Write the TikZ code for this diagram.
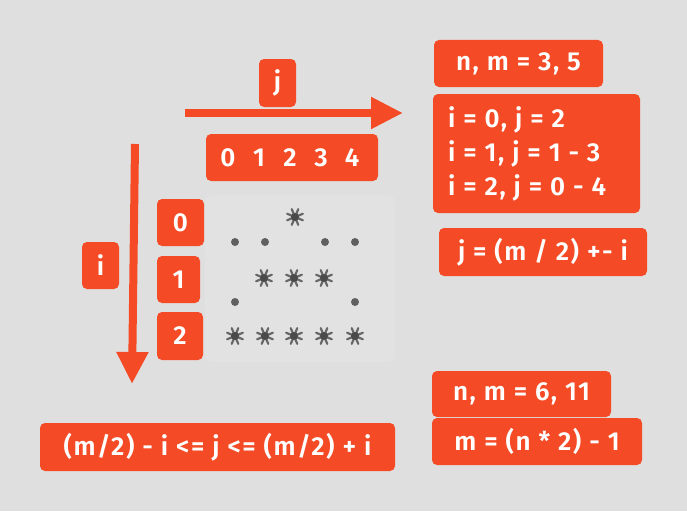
\documentclass[tikz,border=0pt]{standalone}
\usepackage{fontspec}
\setmainfont{Fira Sans}[UprightFont={* SemiBold},LetterSpace=6]
\usetikzlibrary{arrows.meta,calc}
\definecolor{bg}{HTML}{DFDFDF}
\definecolor{tag}{HTML}{F44A25}
\definecolor{inkgray}{HTML}{4A4A4A}
\tikzset{
  tagbox/.style={fill=tag,rounded corners=5pt,text=white,font=\fontsize{26}{34}\selectfont,inner sep=0pt},
  plaintext/.style={text=white,font=\fontsize{26}{28}\selectfont,inner sep=0pt},
  arr/.style={draw=tag,line width=8pt,-{Triangle[length=32pt,width=30pt]}},
  star/.style={inkgray,line width=2.2pt,line cap=round,opacity=0.8},
}
\newcommand{\boxat}[6]{% name, x1,y1,x2,y2, text
  \node[tagbox,minimum width={(#4-#2)*1pt},minimum height={(#5-#3)*1pt}] (#1) at ({(#2+#4)/2},{(#3+#5)/2}) {#6};}
\newcommand{\stardraw}[2]{%
  \foreach \a in {0,45,90,135}{\draw[star] ($(#1,#2)+(\a+22.5:8.5)$) -- ($(#1,#2)+(\a+202.5:8.5)$);}
  \fill[inkgray] (#1,#2) circle (4);}
\newcommand{\dotdraw}[2]{\fill[inkgray,opacity=0.85] (#1,#2) circle (4);}
\begin{document}
\begin{tikzpicture}[x=1pt,y=-1pt]
\useasboundingbox (0,0) rectangle (687,511);
\fill[bg] (0,0) rectangle (687,511);
% star patch
\fill[white,opacity=0.12,rounded corners=8pt] (205,195) rectangle (395,362);
\stardraw{295}{217}
\foreach \x in {235,265,325,355}{\dotdraw{\x}{242}}
\foreach \x in {264,294,324}{\stardraw{\x}{278}}
\foreach \x in {235,355}{\dotdraw{\x}{302}}
\foreach \x in {235,265,294,324,355}{\stardraw{\x}{336}}
% arrows
\coordinate (ja) at (185,113);
\coordinate (jb) at (403,113);
\draw[arr] (ja) -- (jb);
\coordinate (ia) at (135,144);
\coordinate (ib) at (132,384);
\draw[arr] (ia) -- (ib);
% labels
\boxat{jlab}{259}{59}{296}{107}{j}
\boxat{ilab}{82}{242}{119}{289}{i}
\boxat{nums}{206}{134}{378}{181}{}
\foreach \d/\x in {0/228,1/259,2/290,3/321,4/352}{\node[plaintext] (d\d) at (\x,158) {\d};}
\boxat{r0}{157}{199}{204}{246}{0}
\boxat{r1}{157}{256}{200}{303}{1}
\boxat{r2}{157}{312}{203}{360}{2}
\boxat{nma}{434}{40}{603}{87}{n, m = 3, 5}
\node[tagbox,minimum width=207pt,minimum height=119pt] (big) at (536.5,153.5) {};
\node[plaintext,anchor=west] (l1) at (448,120) {i = 0, j = 2};
\node[plaintext,anchor=west] (l2) at (448,154) {i = 1, j = 1 - 3};
\node[plaintext,anchor=west] (l3) at (448,188) {i = 2, j = 0 - 4};
\boxat{jeq}{439}{228}{647}{276}{j = (m / 2) +- i}
\boxat{nmb}{432}{371}{611}{417}{n, m = 6, 11}
\boxat{meq}{432}{418}{642}{465}{m = (n * 2) - 1}
\boxat{ineq}{40}{423}{395}{471}{(m/2) - i <= j <= (m/2) + i}
\end{tikzpicture}
\end{document}
